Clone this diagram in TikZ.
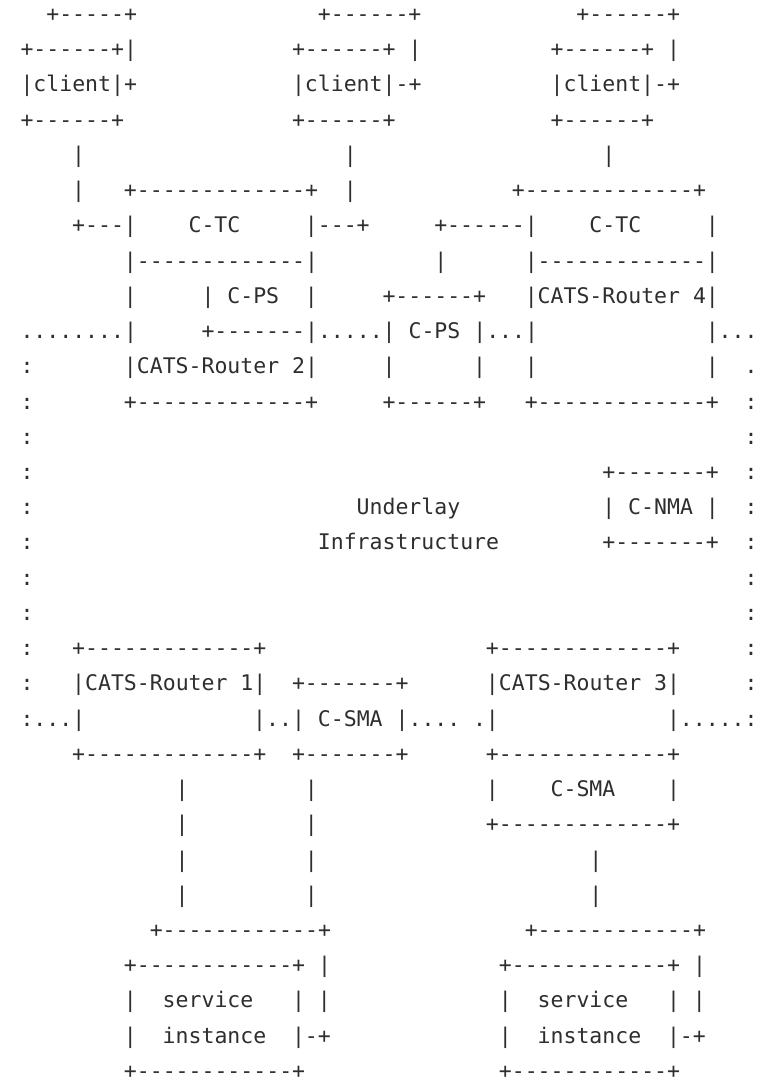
\documentclass[tikz,border=0pt]{standalone}
\usepackage{fontspec}
\setmonofont{DejaVu Sans Mono}
\definecolor{ink}{HTML}{2E2E2E}
\tikzset{asc/.style={anchor=base west, inner sep=0pt, outer sep=0pt, text=ink,
  font=\ttfamily\fontsize{21.5}{24}\selectfont}}
\newcommand\seg[4]{\node[asc] (#1) at ({20.5+#3*12.93},{-21.5-(#2-1)*35.23}) {#4};}
\begin{document}
\begin{tikzpicture}[x=1pt,y=1pt]
\fill[white] (0,0) rectangle (769,-1078);
\useasboundingbox (0,0) rectangle (769,-1078);
% row 1-4: clients
\seg{a1}{1}{2}{+-----+}
\seg{a2}{1}{23}{+------+}
\seg{a3}{1}{43}{+------+}
\seg{b1}{2}{0}{+------+|}
\seg{b2}{2}{21}{+------+ |}
\seg{b3}{2}{41}{+------+ |}
\seg{c1}{3}{0}{|client|+}
\seg{c2}{3}{21}{|client|-+}
\seg{c3}{3}{41}{|client|-+}
\seg{d1}{4}{0}{+------+}
\seg{d2}{4}{21}{+------+}
\seg{d3}{4}{41}{+------+}
% row 5
\seg{e1}{5}{4}{|}
\seg{e2}{5}{25}{|}
\seg{e3}{5}{45}{|}
% row 6
\seg{f1}{6}{4}{|}
\seg{f2}{6}{8}{+-------------+}
\seg{f3}{6}{25}{|}
\seg{f4}{6}{38}{+-------------+}
% row 7
\seg{g1}{7}{4}{+---|}
\seg{g2}{7}{13}{C-TC}
\seg{g3}{7}{22}{|---+}
\seg{g4}{7}{32}{+------|}
\seg{g5}{7}{44}{C-TC}
\seg{g6}{7}{53}{|}
% row 8
\seg{h1}{8}{8}{|-------------|}
\seg{h2}{8}{32}{|}
\seg{h3}{8}{39}{|-------------|}
% row 9
\seg{i1}{9}{8}{|}
\seg{i2}{9}{14}{| C-PS}
\seg{i3}{9}{22}{|}
\seg{i4}{9}{28}{+------+}
\seg{i5}{9}{39}{|CATS-Router 4|}
% row 10
\seg{j1}{10}{0}{........|}
\seg{j2}{10}{14}{+-------|.....| C-PS |...|}
\seg{j3}{10}{53}{|...}
% row 11
\seg{k1}{11}{0}{:}
\seg{k2}{11}{8}{|CATS-Router 2|}
\seg{k3}{11}{28}{|}
\seg{k4}{11}{35}{|}
\seg{k5}{11}{39}{|}
\seg{k6}{11}{53}{|}
\seg{k7}{11}{56}{.}
% row 12
\seg{l1}{12}{0}{:}
\seg{l2}{12}{8}{+-------------+}
\seg{l3}{12}{28}{+------+}
\seg{l4}{12}{39}{+-------------+}
\seg{l5}{12}{56}{:}
% row 13
\seg{m1}{13}{0}{:}
\seg{m2}{13}{56}{:}
% row 14
\seg{n1}{14}{0}{:}
\seg{n2}{14}{45}{+-------+}
\seg{n3}{14}{56}{:}
% row 15
\seg{o1}{15}{0}{:}
\seg{o2}{15}{26}{Underlay}
\seg{o3}{15}{45}{| C-NMA |}
\seg{o4}{15}{56}{:}
% row 16
\seg{p1}{16}{0}{:}
\seg{p2}{16}{23}{Infrastructure}
\seg{p3}{16}{45}{+-------+}
\seg{p4}{16}{56}{:}
% rows 17-18
\seg{q1}{17}{0}{:}
\seg{q2}{17}{56}{:}
\seg{r1}{18}{0}{:}
\seg{r2}{18}{56}{:}
% row 19
\seg{s1}{19}{0}{:}
\seg{s2}{19}{4}{+-------------+}
\seg{s3}{19}{36}{+-------------+}
\seg{s4}{19}{56}{:}
% row 20
\seg{t1}{20}{0}{:}
\seg{t2}{20}{4}{|CATS-Router 1|}
\seg{t3}{20}{21}{+-------+}
\seg{t4}{20}{36}{|CATS-Router 3|}
\seg{t5}{20}{56}{:}
% row 21
\seg{u1}{21}{0}{:...|}
\seg{u2}{21}{18}{|..| C-SMA |....}
\seg{u3}{21}{35}{.|}
\seg{u4}{21}{50}{|.....:}
% row 22
\seg{v1}{22}{4}{+-------------+}
\seg{v2}{22}{21}{+-------+}
\seg{v3}{22}{36}{+-------------+}
% row 23
\seg{w1}{23}{12}{|}
\seg{w2}{23}{22}{|}
\seg{w3}{23}{36}{|}
\seg{w4}{23}{41}{C-SMA}
\seg{w5}{23}{50}{|}
% row 24
\seg{x1}{24}{12}{|}
\seg{x2}{24}{22}{|}
\seg{x3}{24}{36}{+-------------+}
% rows 25-26
\seg{y1}{25}{12}{|}
\seg{y2}{25}{22}{|}
\seg{y3}{25}{44}{|}
\seg{z1}{26}{12}{|}
\seg{z2}{26}{22}{|}
\seg{z3}{26}{44}{|}
% row 27
\seg{aa1}{27}{10}{+------------+}
\seg{aa2}{27}{39}{+------------+}
% row 28
\seg{bb1}{28}{8}{+------------+ |}
\seg{bb2}{28}{37}{+------------+ |}
% row 29
\seg{cc1}{29}{8}{|}
\seg{cc2}{29}{11}{service}
\seg{cc3}{29}{21}{| |}
\seg{cc4}{29}{37}{|}
\seg{cc5}{29}{40}{service}
\seg{cc6}{29}{50}{| |}
% row 30
\seg{dd1}{30}{8}{|}
\seg{dd2}{30}{11}{instance}
\seg{dd3}{30}{21}{|-+}
\seg{dd4}{30}{37}{|}
\seg{dd5}{30}{40}{instance}
\seg{dd6}{30}{50}{|-+}
% row 31
\seg{ee1}{31}{8}{+------------+}
\seg{ee2}{31}{37}{+------------+}
\end{tikzpicture}
\end{document}
